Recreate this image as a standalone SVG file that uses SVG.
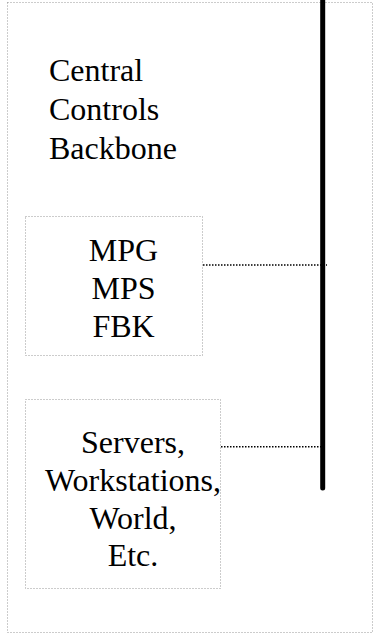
<svg xmlns="http://www.w3.org/2000/svg" width="375" height="636" viewBox="0 0 375 636">
<style>
.box{fill:none;stroke:#999;stroke-width:1;stroke-dasharray:1,2}
.t{font-family:"Liberation Serif","Times New Roman",serif;font-size:32px;fill:#000}
.c{text-anchor:middle}
.conn{stroke:#000;stroke-width:1.5;stroke-dasharray:1.5,1.5;fill:none}
</style>
<rect width="375" height="636" fill="#fff"/>
<g id="backbone-frame">
<rect class="box" x="7.5" y="2.5" width="365" height="630"/>
<text class="t" x="49" y="81">Central</text>
<text class="t" x="49" y="120">Controls</text>
<text class="t" x="49" y="159">Backbone</text>
</g>
<g id="backbone-bus">
<line x1="322.7" y1="-5" x2="322.7" y2="488" stroke="#000" stroke-width="5" stroke-linecap="round"/>
</g>
<g id="node-mpg">
<rect class="box" x="25.5" y="216.5" width="177" height="139"/>
<text class="t c" x="123.5" y="261">MPG</text>
<text class="t c" x="123.5" y="299">MPS</text>
<text class="t c" x="123.5" y="337">FBK</text>
</g>
<g id="node-servers">
<rect class="box" x="25.5" y="399.5" width="195" height="189"/>
<text class="t c" x="133" y="453">Servers,</text>
<text class="t c" x="133" y="491">Workstations,</text>
<text class="t c" x="133" y="529">World,</text>
<text class="t c" x="133" y="566">Etc.</text>
</g>
<g id="connectors">
<line class="conn" x1="203" y1="265" x2="327" y2="265"/>
<line class="conn" x1="221" y1="446.7" x2="321" y2="446.7"/>
</g>
</svg>
